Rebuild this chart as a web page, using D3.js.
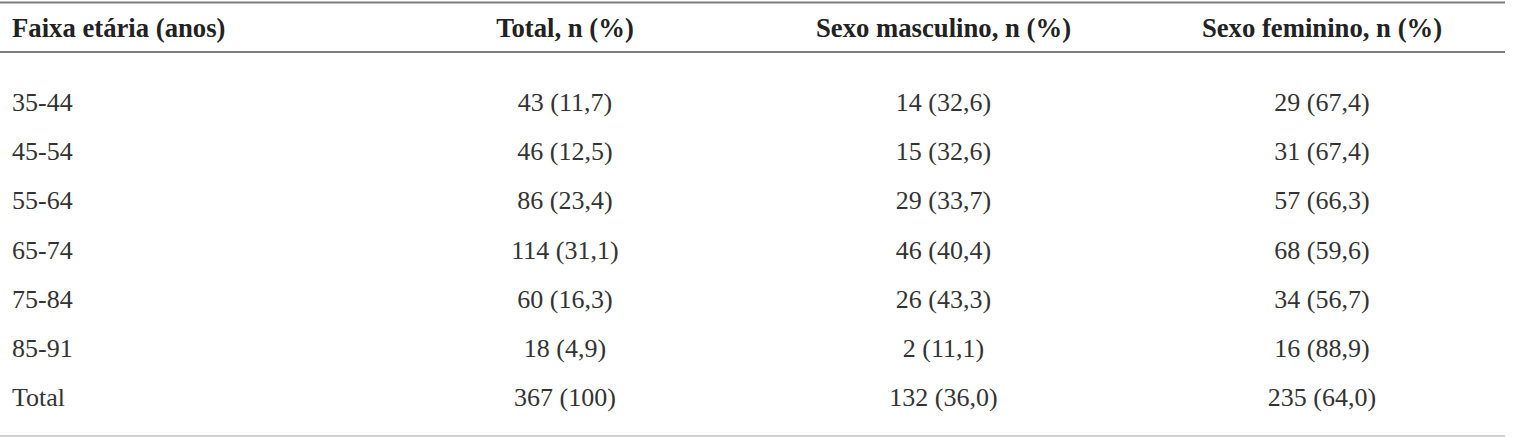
<!DOCTYPE html>
<html>
<head>
<meta charset="utf-8">
<script src="https://cdn.jsdelivr.net/npm/d3@7"></script>
<style>
  html, body { margin: 0; padding: 0; background: #fff; }
  svg { display: block; }
</style>
</head>
<body>
<svg id="chart" width="1515" height="437"></svg>
<script>
const headers = ["Faixa etária (anos)", "Total, n (%)", "Sexo masculino, n (%)", "Sexo feminino, n (%)"];
const ageGroups = ["35-44", "45-54", "55-64", "65-74", "75-84", "85-91", "Total"];
const totalN   = [43, 46, 86, 114, 60, 18, 367];
const totalPct = [11.7, 12.5, 23.4, 31.1, 16.3, 4.9, 100];
const maleN    = [14, 15, 29, 46, 26, 2, 132];
const malePct  = [32.6, 32.6, 33.7, 40.4, 43.3, 11.1, 36.0];
const femaleN  = [29, 31, 57, 68, 34, 16, 235];
const femalePct= [67.4, 67.4, 66.3, 59.6, 56.7, 88.9, 64.0];

const fmtPct = v => v === 100 ? "100" : v.toFixed(1).replace(".", ",");
const cell = (n, p) => `${n} (${fmtPct(p)})`;

const rows = ageGroups.map((g, i) => [
  g,
  cell(totalN[i], totalPct[i]),
  cell(maleN[i], malePct[i]),
  cell(femaleN[i], femalePct[i])
]);

const svg = d3.select("#chart");
const font = "'Liberation Serif', 'Times New Roman', serif";

// Column scale (centers for numeric columns)
const colX = d3.scalePoint().domain([1, 2, 3]).range([565, 1322]);
const firstColX = 12;

// Row scale (baselines)
const rowY = d3.scalePoint().domain(d3.range(ageGroups.length)).range([111, 406]);

const lineX0 = 0, lineX1 = 1505;

// Rules
svg.append("line").attr("x1", lineX0).attr("x2", lineX1).attr("y1", 2.5).attr("y2", 2.5)
  .attr("stroke", "#7d7d7d").attr("stroke-width", 2);
svg.append("line").attr("x1", lineX0).attr("x2", lineX1).attr("y1", 52).attr("y2", 52)
  .attr("stroke", "#7d7d7d").attr("stroke-width", 2);
svg.append("line").attr("x1", lineX0).attr("x2", lineX1).attr("y1", 436).attr("y2", 436)
  .attr("stroke", "#d0d0d0").attr("stroke-width", 2);

// Header
const hdr = svg.append("g").attr("font-family", font).attr("font-weight", "bold")
  .attr("font-size", 26.7).attr("fill", "#222");
hdr.selectAll("text").data(headers).join("text")
  .attr("x", (d, i) => i === 0 ? firstColX : colX(i))
  .attr("y", 37)
  .attr("text-anchor", (d, i) => i === 0 ? "start" : "middle")
  .text(d => d);

// Body
const body = svg.append("g").attr("font-family", font).attr("font-size", 26).attr("fill", "#333");
const rowG = body.selectAll("g.row").data(rows).join("g").attr("class", "row")
  .attr("transform", (d, i) => `translate(0,${rowY(i)})`);
rowG.selectAll("text").data(d => d).join("text")
  .attr("x", (d, i) => i === 0 ? firstColX : colX(i))
  .attr("text-anchor", (d, i) => i === 0 ? "start" : "middle")
  .text(d => d);
</script>
</body>
</html>
